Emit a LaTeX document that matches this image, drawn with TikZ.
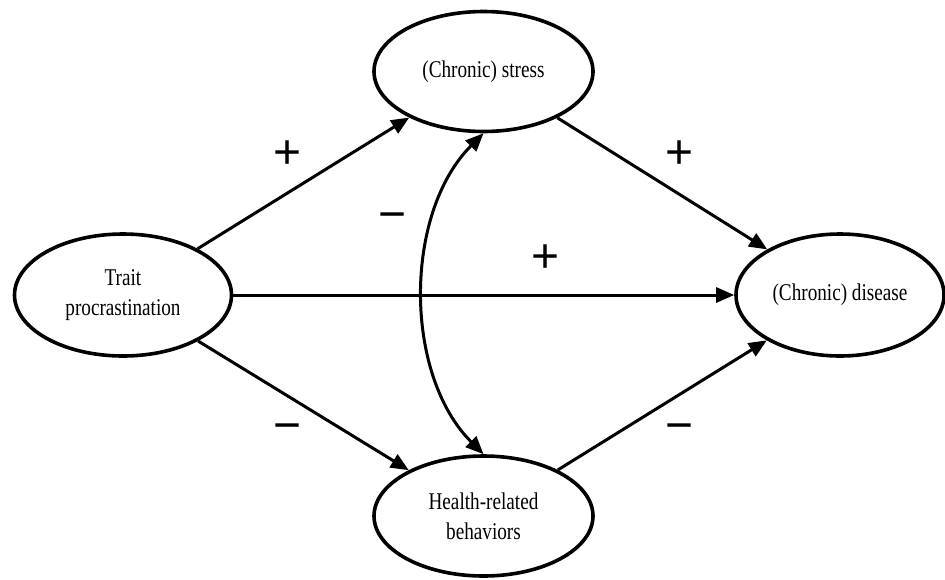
\documentclass[tikz,border=0pt]{standalone}
\usepackage{fontspec}
\setmainfont{Liberation Serif}[FakeStretch=0.8]
\newfontfamily\symfont{Liberation Sans}
\usetikzlibrary{shapes.geometric,arrows.meta}
\begin{document}
\begin{tikzpicture}[x=1pt,y=-1pt,
  latent/.style={ellipse,draw,line width=3.6pt,inner sep=0pt,align=center,
    font=\fontsize{24}{30}\selectfont},
  path/.style={line width=3pt,-{Triangle[length=18pt,width=15pt]}},
  sign/.style={inner sep=0pt,font=\symfont\fontsize{48}{48}\selectfont}]
\useasboundingbox (0,0) rectangle (945,579);
\node[latent,minimum width=219pt,minimum height=120pt] (s) at (483.5,71.5) {(Chronic) stress};
\node[latent,minimum width=217pt,minimum height=122pt] (t) at (123,295) {Trait\\procrastination};
\node[latent,minimum width=208pt,minimum height=122pt] (d) at (840,295) {(Chronic) disease};
\node[latent,minimum width=219pt,minimum height=120pt] (h) at (483.5,516) {Health-related\\behaviors};
\draw[path] (t) -- (s);
\draw[path] (t) -- (h);
\draw[path] (s) -- (d);
\draw[path] (h) -- (d);
\draw[path] (t) -- (d);
\draw[line width=3pt,{Triangle[length=18pt,width=15pt]}-{Triangle[length=18pt,width=15pt]}]
  (s.south) .. controls +(-80,80) and +(-80,-80) .. (h.north);
\node[sign] (p1) at (288,155) {+};
\node[sign] (p2) at (680,155) {+};
\node[sign] (p3) at (546,259) {+};
\node[sign] (m1) at (393,222) {−};
\node[sign] (m2) at (288,433) {−};
\node[sign] (m3) at (680,433) {−};
\end{tikzpicture}
\end{document}
